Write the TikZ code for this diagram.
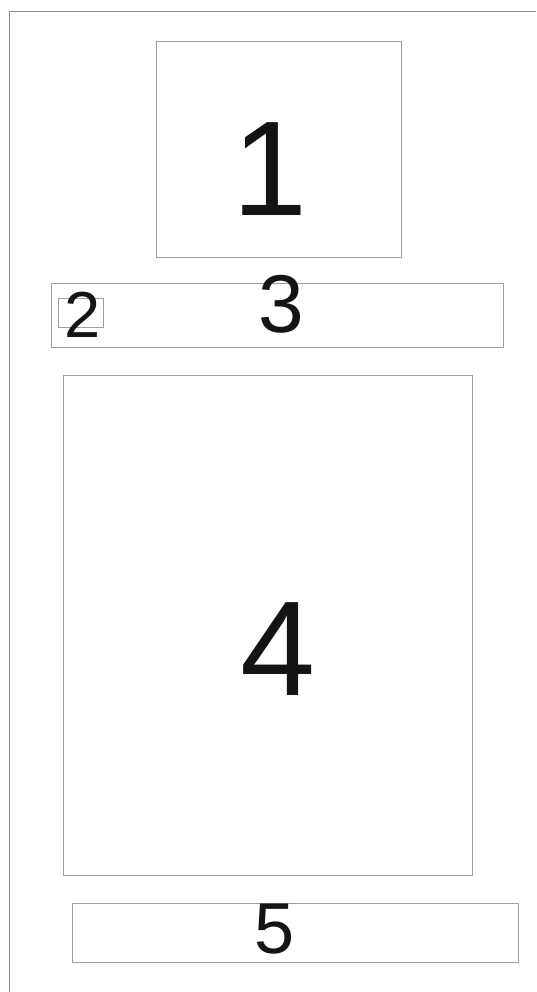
\documentclass[tikz,border=0pt]{standalone}
\usepackage{fontspec}
\setmainfont{Liberation Sans}
\begin{document}
\begin{tikzpicture}[x=1pt,y=-1pt,
  frame/.style={draw=black!45,line width=1pt},
  box/.style={draw=black!38,line width=0.9pt,anchor=north west,inner sep=0pt,outer sep=0pt},
  num/.style={anchor=base,inner sep=0pt,text=black!92}]
\useasboundingbox (0,0) rectangle (536,992);
\fill[white] (0,0) rectangle (536,992);
% outer frame (only top and left edges visible)
\coordinate (ftl) at (9,12);
\coordinate (ftr) at (536,12);
\coordinate (fbl) at (9,992);
\draw[frame] (ftr) -- (ftl) -- (fbl);
% boxes
\node[box,minimum width=245pt,minimum height=216pt] (b1) at (156,41) {};
\node[box,minimum width=452pt,minimum height=64pt] (b3) at (51,283) {};
\node[box,minimum width=45pt,minimum height=29pt] (b2) at (58,298) {};
\node[box,minimum width=409pt,minimum height=500pt] (b4) at (63,375) {};
\node[box,minimum width=446pt,minimum height=59pt] (b5) at (72,903) {};
% labels
\node[num,font=\fontsize{135}{135}\selectfont] (t1) at (270,215) {1};
\node[num,font=\fontsize{65}{65}\selectfont] (t2) at (82.5,337) {2};
\node[num,font=\fontsize{82}{82}\selectfont] (t3) at (281,332) {3};
\node[num,font=\fontsize{135}{135}\selectfont] (t4) at (278.5,695) {4};
\node[num,font=\fontsize{72}{72}\selectfont] (t5) at (275,953) {5};
\end{tikzpicture}
\end{document}
